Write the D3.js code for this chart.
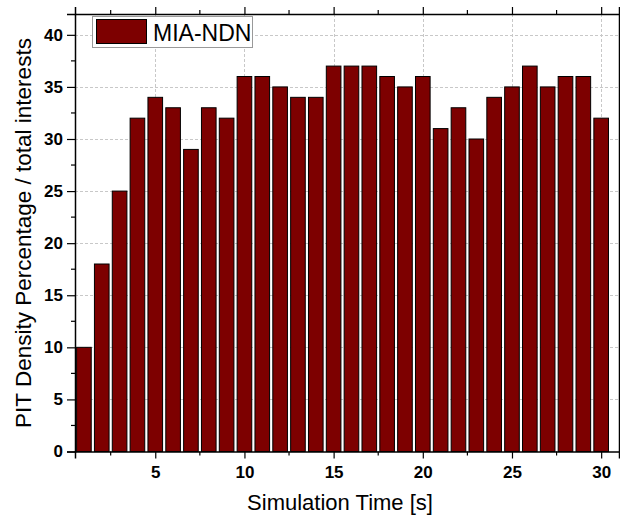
<!DOCTYPE html>
<html><head><meta charset="utf-8">
<script src="https://cdn.jsdelivr.net/npm/d3@7"></script>
<style>body{margin:0;background:#fff}svg{display:block}</style>
</head><body>
<div id="chart"></div>
<script>
const times = [1,2,3,4,5,6,7,8,9,10,11,12,13,14,15,16,17,18,19,20,21,22,23,24,25,26,27,28,29,30];
const density = [10,18,25,32,34,33,29,33,32,36,36,35,34,34,37,37,37,36,35,36,31,33,30,34,35,37,35,36,36,32];
const xTicks = [5,10,15,20,25,30];
const yTicks = [0,5,10,15,20,25,30,35,40];
const seriesName = "MIA-NDN";

const W = 620, H = 525;
const L = 75, R = 619, T = 14, B = 451.5;
const svg = d3.select("#chart").append("svg").attr("width", W).attr("height", H);
const font = "Liberation Sans, Arial, sans-serif";

const x = d3.scaleLinear().domain([0.5, 31]).range([L, R]);
const y = d3.scaleLinear().domain([0, 42]).range([B, T]);

// grid
const grid = svg.append("g").attr("stroke", "#c8c8c8").attr("stroke-dasharray", "3,2").attr("stroke-width", 1);
grid.selectAll(".gy").data(yTicks.filter(d => d > 0)).join("line")
  .attr("x1", L).attr("x2", R).attr("y1", d => Math.round(y(d)) + 0.5).attr("y2", d => Math.round(y(d)) + 0.5);
grid.selectAll(".gx").data(xTicks).join("line")
  .attr("y1", T).attr("y2", B).attr("x1", d => Math.round(x(d)) + 0.5).attr("x2", d => Math.round(x(d)) + 0.5);

// bars
const bw = (x(1) - x(0)) * 0.82;
svg.append("g").selectAll("rect").data(times).join("rect")
  .attr("x", (d) => x(d) - bw / 2)
  .attr("width", bw)
  .attr("y", (d, i) => y(density[i]))
  .attr("height", (d, i) => y(0) - y(density[i]))
  .attr("fill", "#7d0000")
  .attr("stroke", "#000").attr("stroke-width", 1);

// axes
const minorX = d3.range(2.5, 31, 2.5).filter(d => d % 5 !== 0);
const minorY = d3.range(2.5, 42, 5);

const xAxis = d3.axisBottom(x).tickValues(xTicks).tickSize(7).tickPadding(7).tickFormat(d3.format("d"));
const gx = svg.append("g").attr("transform", `translate(0,${B})`).call(xAxis);
gx.append("g").selectAll("line").data(minorX).join("line")
  .attr("x1", d => x(d)).attr("x2", d => x(d)).attr("y1", 0).attr("y2", 4).attr("stroke", "#000");

const xTop = d3.axisTop(x).tickValues(xTicks).tickSize(7).tickFormat("");
const gxt = svg.append("g").attr("transform", `translate(0,${T})`).call(xTop);
gxt.append("g").selectAll("line").data(minorX).join("line")
  .attr("x1", d => x(d)).attr("x2", d => x(d)).attr("y1", 0).attr("y2", -4).attr("stroke", "#000");

const yAxis = d3.axisLeft(y).tickValues(yTicks).tickSize(8).tickPadding(4).tickFormat(d3.format("d"));
const gy = svg.append("g").attr("transform", `translate(${L},0)`).call(yAxis);
gy.append("g").selectAll("line").data(minorY).join("line")
  .attr("y1", d => y(d)).attr("y2", d => y(d)).attr("x1", 0).attr("x2", -4).attr("stroke", "#000");

svg.append("g").attr("transform", `translate(${R},0)`).call(d3.axisRight(y).tickValues([]).tickSize(0));

[gx, gxt, gy].forEach(g => {
  g.selectAll("line").attr("stroke-width", 1.2);
  g.selectAll("text").attr("font-family", font).attr("font-size", 17).attr("font-weight", "bold").attr("fill", "#000");
});
svg.selectAll(".domain").attr("stroke", "#000").attr("stroke-width", 1.5);

// titles
svg.append("text").attr("x", 340).attr("y", 510).attr("text-anchor", "middle")
  .attr("font-family", font).attr("font-size", 22).text("Simulation Time [s]");
svg.append("text").attr("transform", `translate(31,233) rotate(-90)`).attr("text-anchor", "middle")
  .attr("font-family", font).attr("font-size", 22.5).text("PIT Density Percentage / total interests");

// legend
const lg = svg.append("g");
lg.append("rect").attr("x", 92.5).attr("y", 16.5).attr("width", 160).attr("height", 31)
  .attr("fill", "#fff").attr("stroke", "#999").attr("stroke-width", 1);
lg.append("rect").attr("x", 96.5).attr("y", 19.5).attr("width", 50).attr("height", 24)
  .attr("fill", "#7d0000").attr("stroke", "#000").attr("stroke-width", 1);
lg.append("text").attr("x", 153).attr("y", 40.5).attr("font-family", font).attr("font-size", 23).text(seriesName);
</script>
</body></html>
